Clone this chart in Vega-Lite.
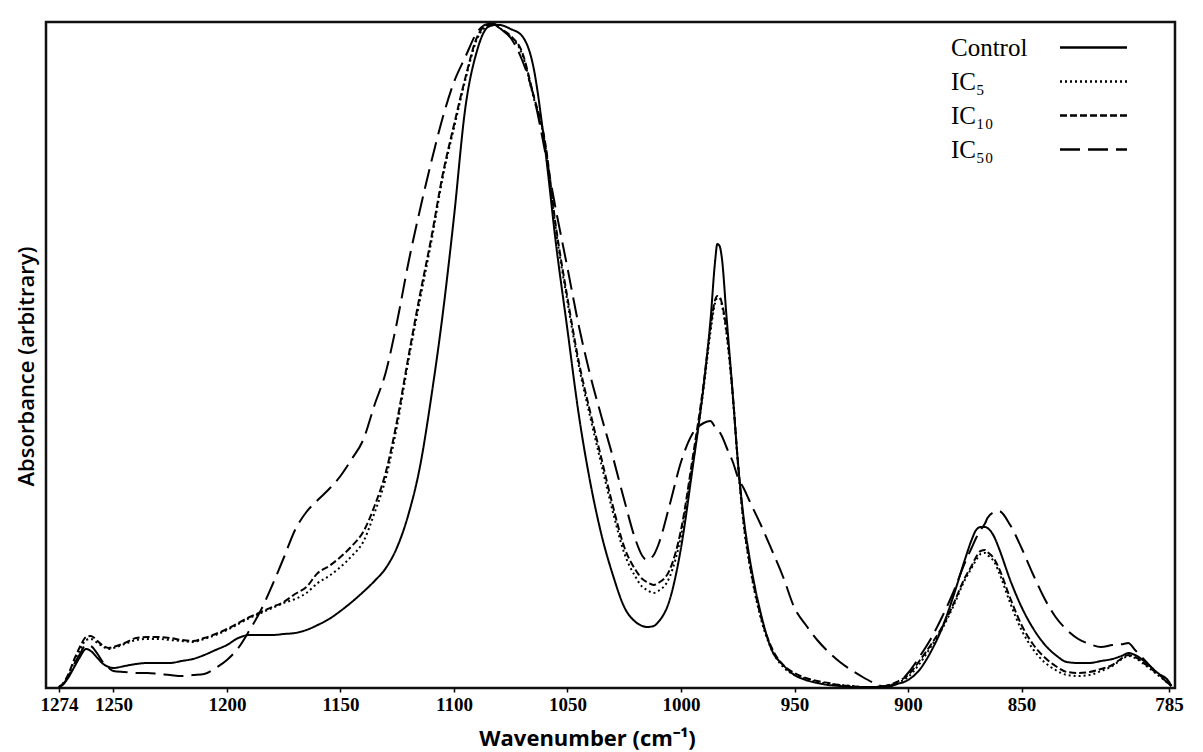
{
"$schema": "https://vega.github.io/schema/vega-lite/v6.json",
"width": 1129, "height": 666,
"autosize": {"type": "none"},
"padding": {"left": 46, "top": 22, "right": 28, "bottom": 64},
"background": "white",
"config": {"view": {"stroke": "#111", "strokeWidth": 2.5}, "axis": {"grid": false}},
"data": {"values": [
{"w":1274,"Control":0,"IC5":0,"IC10":0,"IC50":0},
{"w":1272,"Control":3,"IC5":4,"IC10":4,"IC50":3},
{"w":1270,"Control":9,"IC5":11,"IC10":12,"IC50":10},
{"w":1267,"Control":21,"IC5":27,"IC10":29,"IC50":24},
{"w":1265,"Control":29,"IC5":36,"IC10":39,"IC50":32},
{"w":1262,"Control":38,"IC5":47,"IC10":50,"IC50":42},
{"w":1260,"Control":36,"IC5":48,"IC10":51,"IC50":41},
{"w":1257,"Control":29,"IC5":44,"IC10":46,"IC50":33},
{"w":1255,"Control":24,"IC5":41,"IC10":42,"IC50":26},
{"w":1252,"Control":20,"IC5":38,"IC10":39,"IC50":19},
{"w":1250,"Control":19,"IC5":39,"IC10":40,"IC50":16},
{"w":1245,"Control":21,"IC5":43,"IC10":44,"IC50":15},
{"w":1240,"Control":23,"IC5":47,"IC10":49,"IC50":14},
{"w":1235,"Control":24,"IC5":48,"IC10":50,"IC50":14},
{"w":1230,"Control":24,"IC5":48,"IC10":50,"IC50":13},
{"w":1225,"Control":24,"IC5":47,"IC10":49,"IC50":12},
{"w":1220,"Control":26,"IC5":46,"IC10":47,"IC50":11},
{"w":1215,"Control":28,"IC5":45,"IC10":46,"IC50":12},
{"w":1210,"Control":32,"IC5":48,"IC10":49,"IC50":13},
{"w":1205,"Control":37,"IC5":52,"IC10":53,"IC50":19},
{"w":1200,"Control":42,"IC5":57,"IC10":58,"IC50":27},
{"w":1195,"Control":49,"IC5":63,"IC10":64,"IC50":39},
{"w":1190,"Control":52,"IC5":69,"IC10":70,"IC50":57},
{"w":1185,"Control":52,"IC5":74,"IC10":75,"IC50":77},
{"w":1180,"Control":52,"IC5":79,"IC10":80,"IC50":102},
{"w":1175,"Control":53,"IC5":84,"IC10":85,"IC50":129},
{"w":1170,"Control":54,"IC5":88,"IC10":93,"IC50":157},
{"w":1165,"Control":57,"IC5":94,"IC10":100,"IC50":175},
{"w":1160,"Control":62,"IC5":104,"IC10":114,"IC50":187},
{"w":1155,"Control":68,"IC5":111,"IC10":121,"IC50":198},
{"w":1150,"Control":76,"IC5":120,"IC10":130,"IC50":211},
{"w":1145,"Control":85,"IC5":131,"IC10":141,"IC50":228},
{"w":1140,"Control":95,"IC5":145,"IC10":155,"IC50":247},
{"w":1135,"Control":106,"IC5":174,"IC10":181,"IC50":282},
{"w":1130,"Control":119,"IC5":209,"IC10":215,"IC50":315},
{"w":1125,"Control":140,"IC5":262,"IC10":267,"IC50":366},
{"w":1120,"Control":173,"IC5":327,"IC10":331,"IC50":425},
{"w":1115,"Control":220,"IC5":387,"IC10":392,"IC50":477},
{"w":1110,"Control":290,"IC5":445,"IC10":449,"IC50":525},
{"w":1105,"Control":372,"IC5":509,"IC10":512,"IC50":569},
{"w":1100,"Control":470,"IC5":559,"IC10":562,"IC50":605},
{"w":1095,"Control":579,"IC5":607,"IC10":609,"IC50":630},
{"w":1090,"Control":635,"IC5":647,"IC10":649,"IC50":654},
{"w":1085,"Control":660,"IC5":661,"IC10":662,"IC50":663},
{"w":1082,"Control":662,"IC5":662,"IC10":662,"IC50":663},
{"w":1080,"Control":662,"IC5":659,"IC10":659,"IC50":659},
{"w":1075,"Control":658,"IC5":650,"IC10":651,"IC50":649},
{"w":1070,"Control":651,"IC5":633,"IC10":635,"IC50":627},
{"w":1065,"Control":620,"IC5":590,"IC10":592,"IC50":592},
{"w":1060,"Control":541,"IC5":545,"IC10":547,"IC50":537},
{"w":1055,"Control":442,"IC5":455,"IC10":459,"IC50":476},
{"w":1050,"Control":357,"IC5":385,"IC10":389,"IC50":419},
{"w":1045,"Control":272,"IC5":321,"IC10":325,"IC50":361},
{"w":1040,"Control":205,"IC5":270,"IC10":275,"IC50":312},
{"w":1035,"Control":152,"IC5":222,"IC10":228,"IC50":270},
{"w":1030,"Control":112,"IC5":175,"IC10":181,"IC50":230},
{"w":1025,"Control":80,"IC5":134,"IC10":140,"IC50":187},
{"w":1020,"Control":65,"IC5":110,"IC10":117,"IC50":147},
{"w":1017,"Control":61,"IC5":100,"IC10":108,"IC50":131},
{"w":1015,"Control":60,"IC5":97,"IC10":105,"IC50":127},
{"w":1012,"Control":61,"IC5":94,"IC10":102,"IC50":132},
{"w":1010,"Control":65,"IC5":96,"IC10":104,"IC50":142},
{"w":1005,"Control":87,"IC5":110,"IC10":117,"IC50":182},
{"w":1000,"Control":139,"IC5":151,"IC10":157,"IC50":225},
{"w":995,"Control":217,"IC5":222,"IC10":227,"IC50":253},
{"w":990,"Control":302,"IC5":299,"IC10":304,"IC50":264},
{"w":987,"Control":367,"IC5":355,"IC10":360,"IC50":266},
{"w":985,"Control":425,"IC5":384,"IC10":387,"IC50":260},
{"w":984,"Control":443,"IC5":389,"IC10":391,"IC50":258},
{"w":983,"Control":441,"IC5":389,"IC10":390,"IC50":255},
{"w":982,"Control":429,"IC5":382,"IC10":384,"IC50":251},
{"w":980,"Control":372,"IC5":354,"IC10":357,"IC50":240},
{"w":977,"Control":287,"IC5":285,"IC10":287,"IC50":224},
{"w":975,"Control":227,"IC5":225,"IC10":227,"IC50":210},
{"w":972,"Control":162,"IC5":155,"IC10":157,"IC50":197},
{"w":970,"Control":132,"IC5":125,"IC10":127,"IC50":187},
{"w":965,"Control":75,"IC5":70,"IC10":72,"IC50":163},
{"w":960,"Control":37,"IC5":37,"IC10":39,"IC50":137},
{"w":955,"Control":22,"IC5":20,"IC10":22,"IC50":110},
{"w":950,"Control":12,"IC5":12,"IC10":14,"IC50":79},
{"w":945,"Control":7,"IC5":8,"IC10":9,"IC50":62},
{"w":940,"Control":4,"IC5":5,"IC10":6,"IC50":47},
{"w":935,"Control":2,"IC5":3,"IC10":4,"IC50":35},
{"w":930,"Control":1,"IC5":2,"IC10":2,"IC50":25},
{"w":925,"Control":0,"IC5":1,"IC10":1,"IC50":17},
{"w":920,"Control":0,"IC5":0,"IC10":0,"IC50":10},
{"w":915,"Control":0,"IC5":0,"IC10":0,"IC50":4},
{"w":910,"Control":1,"IC5":1,"IC10":1,"IC50":0},
{"w":905,"Control":3,"IC5":4,"IC10":5,"IC50":3},
{"w":900,"Control":7,"IC5":10,"IC10":12,"IC50":14},
{"w":895,"Control":17,"IC5":23,"IC10":26,"IC50":30},
{"w":890,"Control":35,"IC5":40,"IC10":42,"IC50":48},
{"w":885,"Control":59,"IC5":58,"IC10":60,"IC50":70},
{"w":880,"Control":91,"IC5":81,"IC10":83,"IC50":95},
{"w":875,"Control":127,"IC5":107,"IC10":109,"IC50":124},
{"w":872,"Control":147,"IC5":119,"IC10":121,"IC50":139},
{"w":870,"Control":157,"IC5":127,"IC10":130,"IC50":149},
{"w":868,"Control":160,"IC5":133,"IC10":136,"IC50":157},
{"w":866,"Control":160,"IC5":134,"IC10":137,"IC50":164},
{"w":865,"Control":159,"IC5":132,"IC10":135,"IC50":169},
{"w":862,"Control":150,"IC5":125,"IC10":128,"IC50":175},
{"w":860,"Control":139,"IC5":115,"IC10":119,"IC50":176},
{"w":855,"Control":107,"IC5":84,"IC10":89,"IC50":162},
{"w":850,"Control":80,"IC5":57,"IC10":62,"IC50":139},
{"w":845,"Control":59,"IC5":38,"IC10":43,"IC50":113},
{"w":840,"Control":43,"IC5":25,"IC10":30,"IC50":89},
{"w":835,"Control":32,"IC5":17,"IC10":21,"IC50":70},
{"w":830,"Control":25,"IC5":12,"IC10":15,"IC50":57},
{"w":825,"Control":24,"IC5":11,"IC10":14,"IC50":48},
{"w":820,"Control":24,"IC5":12,"IC10":15,"IC50":43},
{"w":815,"Control":26,"IC5":16,"IC10":18,"IC50":40},
{"w":810,"Control":28,"IC5":21,"IC10":22,"IC50":42},
{"w":805,"Control":32,"IC5":29,"IC10":30,"IC50":43},
{"w":803,"Control":34,"IC5":31,"IC10":32,"IC50":44},
{"w":800,"Control":32,"IC5":29,"IC10":30,"IC50":37},
{"w":795,"Control":24,"IC5":21,"IC10":22,"IC50":25},
{"w":790,"Control":14,"IC5":12,"IC10":13,"IC50":13},
{"w":785,"Control":5,"IC5":3,"IC10":4,"IC50":3},
{"w":784,"Control":1,"IC5":1,"IC10":1,"IC50":1}
]},
"transform": [{"fold": ["Control","IC5","IC10","IC50"], "as": ["series","a"]}],
"mark": {"type": "line", "interpolate": "monotone", "color": "#000", "strokeWidth": 2},
"encoding": {
  "x": {"field": "w", "type": "quantitative",
    "scale": {"domain": [782.4, 1279.7], "reverse": true, "nice": false, "zero": false},
    "axis": {"values": [1274,1250,1200,1150,1100,1050,1000,950,900,850,785], "format": "d",
      "labelFont": "Liberation Serif", "labelFontWeight": "bold", "labelFontSize": 19, "labelColor": "#000",
      "labelPadding": 3, "labelFlush": false, "labelOverlap": false,
      "tickSize": 4, "tickColor": "#000", "tickWidth": 1.5, "domain": false,
      "title": "Wavenumber (cm⁻¹)", "titleFont": "Open Sans", "titleFontWeight": "bold", "titleFontSize": 22, "titleColor": "#000",
      "titleX": 541, "titleY": 57, "titleAlign": "center", "titleBaseline": "alphabetic"}},
  "y": {"field": "a", "type": "quantitative",
    "scale": {"domain": [-1, 665], "nice": false, "zero": false},
    "axis": {"labels": false, "ticks": false, "domain": false,
      "title": "Absorbance (arbitrary)", "titleFont": "Open Sans", "titleFontWeight": 600, "titleFontSize": 22, "titleColor": "#000",
      "titleX": -13, "titleY": 344, "titleAlign": "center", "titleBaseline": "alphabetic", "titleAngle": -90}},
  "strokeDash": {"field": "series", "type": "nominal",
    "scale": {"domain": ["Control","IC5","IC10","IC50"], "range": [[1,0],[2,3],[7,3],[20,8]]},
    "legend": {"title": null, "orient": "none", "legendX": 1035, "legendY": 13,
      "symbolType": "M-6.7,0H6.7", "symbolSize": 100, "symbolStrokeWidth": 2.5, "symbolStrokeColor": "#000",
      "labelFont": "Liberation Serif", "labelFontSize": 25, "labelColor": "#000", "labelOffset": -155, "labelAlign": "left",
      "rowPadding": 8, "padding": 0,
      "labelExpr": "datum.label == 'IC5' ? 'IC₅' : datum.label == 'IC10' ? 'IC₁₀' : datum.label == 'IC50' ? 'IC₅₀' : datum.label"}},
  "order": {"field": "w", "sort": "descending"}
}
}
